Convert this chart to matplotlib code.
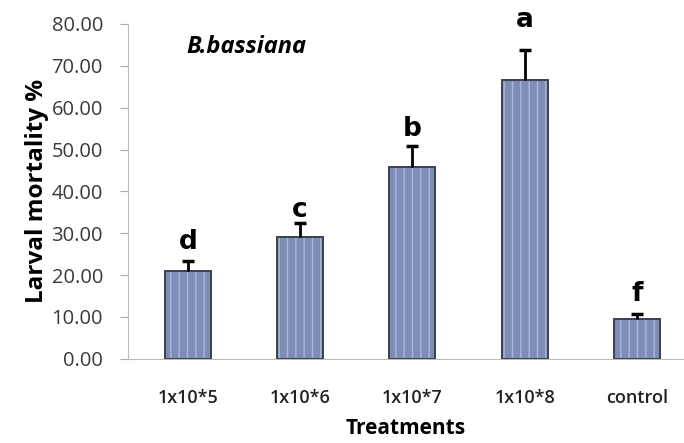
import numpy as np
import matplotlib
matplotlib.use("Agg")
import matplotlib.pyplot as plt

plt.rcParams['font.family'] = ['Open Sans', 'DejaVu Sans']

# data
treatments = ["1x10*5", "1x10*6", "1x10*7", "1x10*8", "control"]
mortality = [21.0, 29.2, 45.8, 66.7, 9.4]
err = [2.3, 3.3, 5.0, 7.0, 1.3]
letters = ["d", "c", "b", "a", "f"]
letter_y = [28.0, 35.5, 55.0, 81.0, 15.5]

fig = plt.figure(figsize=(6.84, 4.43), dpi=100)
ax = fig.add_axes([0.187, 0.19, 0.813, 0.756])

x = np.arange(len(treatments))
w = 0.41
tops = np.array(mortality) + np.array(err)
# striped fill
ax.bar(x, mortality, width=w, color="#7d8db5", edgecolor="#aab7d8", hatch="||", linewidth=0, zorder=2)
# dark outline
ax.bar(x, mortality, width=w, color="none", edgecolor="#3b404c", linewidth=1.4, zorder=3)
# upper error bars only
ax.vlines(x, mortality, tops, color="black", linewidth=2, zorder=4)
ax.plot(x, tops, linestyle="none", marker="_", markersize=9, markeredgewidth=2.5, color="black", zorder=4)

for xi, yi, s in zip(x, letter_y, letters):
    ax.text(xi, yi, s, ha="center", va="center", fontsize=19, fontweight="bold",
            family="DejaVu Sans", clip_on=False)

ax.text(0.52, 74.5, "B.bassiana", fontsize=17, fontweight="bold", style="italic", ha="center", va="center")

ax.set_xlim(-0.534, 4.42)
ax.set_ylim(0, 80)
ax.set_yticks(np.arange(0, 81, 10))
ax.set_yticklabels(["%.2f" % v for v in np.arange(0, 81, 10)], fontsize=14.5, color="#3a3a3a")
ax.set_xticks(x)
ax.set_xticklabels(treatments, fontsize=13, color="#222222", fontweight="semibold")
ax.tick_params(axis="x", length=0, pad=22)
ax.tick_params(axis="y", length=6, color="#aaaaaa", direction="out", pad=12)

for sp in ["top", "right"]:
    ax.spines[sp].set_visible(False)
ax.spines["left"].set_color("#bbbbbb")
ax.spines["bottom"].set_color("#bbbbbb")

ax.set_ylabel("Larval mortality %", fontsize=17.5, fontweight="bold", labelpad=2)
ax.set_xlabel("Treatments", fontsize=15, fontweight="bold", labelpad=8)

fig.savefig("out.png", dpi=100)
